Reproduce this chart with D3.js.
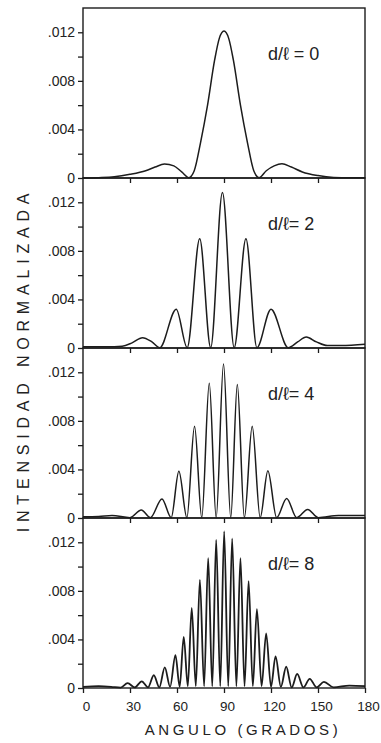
<!DOCTYPE html>
<html>
<head>
<meta charset="utf-8">
<script src="https://cdn.jsdelivr.net/npm/d3@7"></script>
<style>
  body { margin: 0; background: #fff; }
  text { font-family: 'Liberation Sans', Arial, sans-serif; fill: #222; }
</style>
</head>
<body>
<svg id="graph"></svg>
<script>
const angleTicks = [0, 30, 60, 90, 120, 150, 180]
const yTicks = [0, 0.004, 0.008, 0.012]
const yMinorTicks = [0.002, 0.006, 0.010]
const panelLabels = ['d/ℓ = 0', 'd/ℓ= 2', 'd/ℓ= 4', 'd/ℓ= 8']

// d/l = 0
const angleD0 = [0, 10, 20, 30, 40, 46, 52, 58, 63, 67.5, 71, 75, 79.5, 84, 87, 90, 93, 96, 100.5, 105,
  109, 112.5, 117, 122, 127, 133, 140, 150, 160, 170, 180]
const intensD0 = [0, 0.00003, 0.0001, 0.0003, 0.0006, 0.0009, 0.00115, 0.001, 0.0005, 0.00003,
  0.0006, 0.0029, 0.006, 0.0097, 0.0115, 0.0121, 0.0115, 0.0097, 0.006, 0.0029,
  0.0006, 0.00003, 0.0006, 0.001, 0.00118, 0.0009, 0.0005, 0.0002, 0.00005, 0.00002, 0.00002]

// d/l = 2
const angleD2 = [0, 15, 25, 31, 38, 44, 49, 59.5, 66.5, 74.5, 81.5, 89, 96.5, 104, 111, 120, 131,
  137, 142.5, 149, 156, 165, 180]
const intensD2 = [0.0001, 0.0001, 0.00015, 0.0004, 0.00085, 0.0005, 0.00003, 0.0032, 0.00003, 0.009,
  0.00003, 0.0128, 0.00003, 0.009, 0.00003, 0.0032, 0.00003, 0.0005, 0.0009, 0.0005, 0.0002, 0.0002, 0.0003]

// d/l = 4
const angleD4 = [0, 10, 18.5, 30, 37.2, 43, 50.4, 56.3, 61.2, 66.3, 71.2, 75.8, 80.6, 85, 89.7, 94.3,
  98.5, 103, 108, 113.1, 118, 123.6, 130, 136.4, 143.4, 150.2, 163, 180]
const intensD4 = [0.0001, 0.00012, 0.0002, 0.00003, 0.00066, 0.00003, 0.00157, 0.00003, 0.00385, 0.00003,
  0.00755, 0.00003, 0.0111, 0.00003, 0.01268, 0.00003, 0.011, 0.00003, 0.00755, 0.00003,
  0.0039, 0.00003, 0.0016, 0.00003, 0.0007, 0.00003, 0.0002, 0.0002]

// d/l = 8
const angleD8 = [0, 10, 18, 24, 28.5, 33, 37.5, 41.5, 45.2, 48.7, 52.2, 55.6, 59, 61.7, 64.3, 66.9,
  69.4, 72, 74.6, 77.3, 79.9, 82.5, 85, 87.6, 90.1, 92.7, 95.2, 97.9, 100.5, 103.1, 105.7, 108.4,
  111, 114, 116.9, 120, 122.9, 126.3, 129.7, 133.2, 136.7, 140.7, 144.7, 149.2, 153.8, 160, 170, 180]
const intensD8 = [0.0001, 0.00015, 0.0001, 0.00003, 0.0004, 0.00005, 0.00055, 0.00005, 0.00105, 0.00005,
  0.0017, 0.0001, 0.0027, 0.0001, 0.0042, 0.00015, 0.0066, 0.00015, 0.0089, 0.00015,
  0.0107, 0.00015, 0.0122, 0.00015, 0.0129, 0.00015, 0.0123, 0.00015, 0.0107, 0.00015,
  0.0088, 0.00015, 0.0065, 0.00015, 0.0045, 0.0001, 0.0026, 0.0001, 0.00175, 0.00005,
  0.00116, 0.00005, 0.00075, 0.00005, 0.0005, 0.00005, 0.0002, 0.00015]

const series = [
  [angleD0, intensD0],
  [angleD2, intensD2],
  [angleD4, intensD4],
  [angleD8, intensD8]
]

const w = 381
const h = 743
const left = 83
const right = 365
const plotTop = 8
const panelH = 170
const ink = '#1c1c1c'

const svg = d3.select('#graph')
  .attr('width', w)
  .attr('height', h)

const x = d3.scaleLinear().domain([0, 180]).range([left, right])
const fmt = d => d === 0 ? '0' : d3.format('.3f')(d).replace(/^0/, '')

series.forEach(([angles, values], i) => {
  const top = plotTop + panelH * i
  const bottom = top + panelH
  const y = d3.scaleLinear().domain([0, 0.014]).range([bottom, top])
  const g = svg.append('g')

  // y axis, major + minor ticks
  const yAxis = g.append('g')
    .attr('transform', `translate(${left},0)`)
    .call(d3.axisLeft(y).tickValues(yTicks).tickFormat(fmt).tickSize(5).tickPadding(3))
  yAxis.append('g')
    .call(d3.axisLeft(y).tickValues(yMinorTicks).tickFormat('').tickSize(5))

  // x axis ticks below each panel
  const last = i === series.length - 1
  const xAxis = g.append('g')
    .attr('transform', `translate(0,${bottom})`)
    .call(d3.axisBottom(x)
      .tickValues(last ? angleTicks : angleTicks.slice(1, -1))
      .tickFormat(last ? d3.format('d') : '')
      .tickSize(5)
      .tickPadding(8))
  xAxis.selectAll('text').attr('dx', 3)

  g.selectAll('.domain').remove()
  g.selectAll('.tick line').attr('stroke', ink).attr('stroke-width', 1.3)
  g.selectAll('.tick text')
    .style('font-size', '14px')
    .attr('fill', '#222')
  xAxis.selectAll('text').style('font-size', '13.5px')

  // frame
  g.append('rect')
    .attr('x', left)
    .attr('y', top)
    .attr('width', right - left)
    .attr('height', panelH)
    .attr('fill', 'none')
    .attr('stroke', ink)
    .attr('stroke-width', 1.4)

  const pts = angles.map((a, k) => [a, values[k]])
  const line = d3.line()
    .x(d => x(d[0]))
    .y(d => y(d[1]))
    .curve(d3.curveMonotoneX)

  g.append('path')
    .datum(pts)
    .attr('d', line)
    .attr('fill', 'none')
    .attr('stroke', ink)
    .attr('stroke-width', i === 3 ? 1.8 : 1.5)
    .attr('stroke-linejoin', 'round')

  g.append('text')
    .text(panelLabels[i])
    .attr('x', 268)
    .attr('y', top + 52)
    .style('font-size', '18px')
})

svg.append('text')
  .text('ANGULO (GRADOS)')
  .attr('x', 243)
  .attr('y', 735)
  .attr('text-anchor', 'middle')
  .style('font-size', '15px')
  .style('letter-spacing', '3.6px')

svg.append('text')
  .text('INTENSIDAD NORMALIZADA')
  .attr('transform', 'translate(29,360) rotate(-90)')
  .attr('text-anchor', 'middle')
  .style('font-size', '16px')
  .style('letter-spacing', '5.8px')
</script>
</body>
</html>
